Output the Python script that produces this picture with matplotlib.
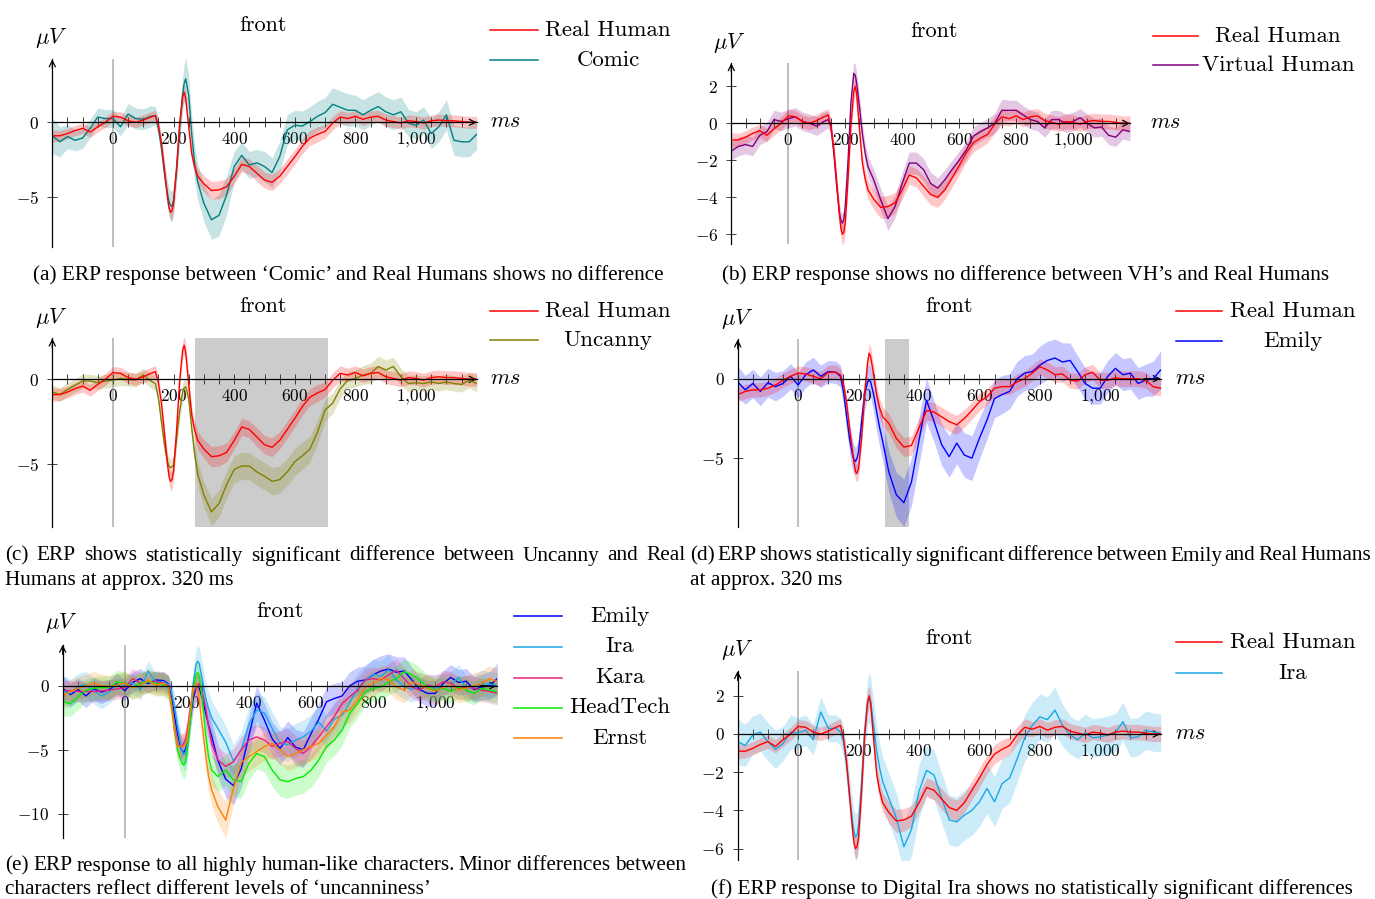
import matplotlib
matplotlib.use('Agg')
import matplotlib.pyplot as plt
from matplotlib.lines import Line2D

plt.rcParams['mathtext.fontset'] = 'cm'
plt.rcParams['font.family'] = ['cmr10', 'DejaVu Serif']
plt.rcParams['axes.formatter.use_mathtext'] = True

W, H = 1375, 899

# time grid (ms): coarse baseline, finer around the N170/P200 peaks
t = list(range(-200, 126, 25)) + [140, 150, 160, 170, 180, 185, 190, 195, 200, 210,
                                  220, 230, 235, 240, 250, 260, 270, 280] + list(range(300, 1201, 25))

# --- series (uV) ---
real_human = [-0.9, -0.9, -0.75, -0.55, -0.4, -0.65, -0.3, 0.0, 0.4, 0.35, 0.1, 0.0, 0.15, 0.35,
              0.45, -0.2, -1.4, -3.2, -5.0, -5.7, -6.0, -5.9, -5.4, -3.0, -0.1, 1.7, 2.0, 1.6, -0.3, -2.1, -3.0, -3.6,
              -4.1, -4.55, -4.5, -4.3, -3.6, -2.8, -2.95, -3.4, -3.85, -4.0, -3.6, -2.95, -2.3, -1.6, -1.05, -0.8, -0.6, -0.05, 0.35,
              0.25, 0.4, 0.2, 0.35, 0.4, 0.15, 0.05, -0.05, 0.1, 0.05, -0.05, 0.1, 0.15, 0.1, 0.1, 0.05, 0.0, 0.0]
real_human_sd = [0.4, 0.35, 0.35, 0.35, 0.35, 0.35, 0.35, 0.35, 0.35, 0.35, 0.35, 0.35, 0.35, 0.35,
                 0.35, 0.4, 0.45, 0.5, 0.5, 0.5, 0.55, 0.55, 0.55, 0.5, 0.5, 0.55, 0.55, 0.55, 0.5, 0.5, 0.5, 0.5,
                 0.55, 0.6, 0.6, 0.55, 0.5, 0.5, 0.5, 0.55, 0.55, 0.55, 0.5, 0.5, 0.5, 0.5, 0.5, 0.5, 0.45, 0.45, 0.45,
                 0.4, 0.4, 0.4, 0.4, 0.4, 0.4, 0.4, 0.4, 0.4, 0.4, 0.4, 0.4, 0.4, 0.4, 0.4, 0.4, 0.4, 0.4]

comic = [-0.9, -1.3, -0.95, -1.2, -1.05, -0.4, 0.35, 0.25, 0.25, -0.3, 0.55, 0.25, 0.2, 0.4,
         0.45, -0.4, -1.7, -3.4, -4.8, -5.3, -5.55, -5.6, -5.2, -3.2, -0.4, 1.9, 2.6, 2.9, 1.8, -0.8, -2.8, -4.0,
         -5.4, -6.5, -6.2, -4.85, -2.95, -2.2, -2.85, -2.7, -2.95, -3.35, -2.3, -0.5, -0.2, -0.25, 0.05, 0.4, 0.65, 1.2, 1.0,
         0.8, 0.8, 0.5, 0.8, 1.05, 0.7, 0.5, 0.7, -0.05, -0.2, 0.15, -0.75, -0.3, 0.5, -1.2, -1.3, -1.3, -0.8]
comic_sd = [1.2, 1.0, 0.8, 0.7, 0.7, 0.6, 0.6, 0.6, 0.6, 0.6, 0.7, 0.7, 0.7, 0.7,
            0.6, 0.6, 0.7, 0.8, 0.9, 0.9, 1.0, 1.0, 1.0, 1.0, 1.0, 1.1, 1.3, 1.4, 1.3, 1.2, 1.2, 1.2,
            1.2, 1.3, 1.4, 1.3, 1.0, 0.9, 0.9, 0.9, 1.0, 1.0, 1.0, 1.0, 1.0, 1.0, 1.0, 1.0, 1.0, 1.1, 1.1,
            1.1, 1.0, 1.0, 1.0, 1.0, 1.0, 1.0, 1.0, 0.9, 0.9, 0.9, 1.0, 1.0, 1.0, 1.0, 1.0, 1.0, 1.0]

virtual_human = [-1.5, -1.25, -1.15, -1.25, -0.65, -0.45, 0.2, 0.1, 0.25, 0.35, 0.1, 0.0, -0.15, 0.1,
                 0.2, -0.2, -1.6, -3.4, -4.9, -5.25, -5.4, -5.2, -4.5, -2.0, 1.1, 2.7, 2.6, 2.2, 0.9, -0.55, -1.6, -2.35,
                 -3.05, -4.15, -5.15, -4.5, -3.25, -2.15, -2.15, -2.5, -3.25, -3.5, -3.05, -2.5, -2.0, -1.45, -0.7, -0.45, -0.25, 0.0, 0.7,
                 0.7, 0.7, 0.45, 0.2, 0.1, -0.25, 0.2, 0.2, 0.0, 0.1, 0.3, 0.0, -0.25, -0.2, -0.65, -0.75, -0.35, -0.45]
virtual_human_sd = [0.5, 0.5, 0.5, 0.5, 0.5, 0.5, 0.5, 0.5, 0.5, 0.5, 0.5, 0.5, 0.5, 0.5,
                    0.45, 0.45, 0.5, 0.5, 0.5, 0.5, 0.5, 0.5, 0.5, 0.5, 0.55, 0.6, 0.6, 0.6, 0.6, 0.55, 0.55, 0.55,
                    0.55, 0.6, 0.65, 0.6, 0.6, 0.6, 0.6, 0.6, 0.6, 0.55, 0.55, 0.5, 0.5, 0.5, 0.5, 0.5, 0.5, 0.55, 0.6,
                    0.55, 0.55, 0.5, 0.5, 0.5, 0.5, 0.5, 0.5, 0.5, 0.5, 0.5, 0.5, 0.5, 0.5, 0.5, 0.5, 0.5, 0.5]

uncanny = [-0.75, -0.9, -0.6, -0.35, -0.1, -0.1, -0.2, -0.1, -0.05, 0.05, 0.0, -0.05, 0.25, -0.1,
           -0.25, -1.1, -2.5, -3.85, -4.85, -5.1, -5.2, -5.15, -5.05, -3.5, -1.9, -0.75, -0.5, -0.45, -1.1, -2.9, -4.45, -5.6,
           -6.8, -7.8, -7.3, -6.2, -5.3, -5.1, -5.1, -5.45, -5.7, -6.0, -5.9, -5.45, -4.85, -4.5, -4.1, -3.1, -1.8, -1.4, -0.55,
           -0.05, 0.05, 0.25, 0.35, 0.75, 0.55, 0.75, 0.15, -0.25, -0.2, -0.25, -0.15, -0.25, -0.15, -0.25, -0.3, -0.05, -0.25]
uncanny_sd = [0.4, 0.4, 0.4, 0.4, 0.4, 0.4, 0.4, 0.4, 0.4, 0.4, 0.4, 0.4, 0.4, 0.4,
              0.4, 0.4, 0.45, 0.5, 0.5, 0.5, 0.5, 0.5, 0.5, 0.5, 0.5, 0.5, 0.5, 0.5, 0.55, 0.6, 0.65, 0.7,
              0.75, 0.8, 0.8, 0.8, 0.8, 0.8, 0.8, 0.8, 0.8, 0.8, 0.8, 0.8, 0.8, 0.8, 0.75, 0.7, 0.65, 0.6, 0.55,
              0.5, 0.5, 0.55, 0.6, 0.6, 0.6, 0.55, 0.5, 0.5, 0.45, 0.45, 0.45, 0.45, 0.45, 0.45, 0.45, 0.45, 0.5]

real_human_d = [-1.0, -0.8, -0.7, -0.7, -0.6, -0.4, -0.1, 0.15, 0.35, 0.3, 0.15, 0.0, 0.4, 0.4,
                0.25, -0.4, -1.45, -3.1, -4.6, -5.3, -5.85, -5.95, -5.65, -3.75, -1.0, 1.05, 1.6, 1.4, 0.25, -1.0, -1.85, -2.4,
                -2.8, -3.75, -4.3, -4.2, -3.1, -2.0, -2.1, -2.4, -2.7, -2.9, -2.5, -2.0, -1.45, -1.15, -0.6, -0.5, -0.5, -0.2, 0.0,
                0.35, 0.75, 0.55, 0.25, 0.3, -0.1, -0.15, 0.25, 0.4, -0.1, -0.1, 0.05, 0.0, 0.0, 0.0, -0.1, -0.5, -0.6]
real_human_d_sd = [0.45, 0.45, 0.45, 0.45, 0.45, 0.45, 0.45, 0.45, 0.45, 0.45, 0.45, 0.45, 0.45, 0.45,
                   0.4, 0.4, 0.45, 0.5, 0.5, 0.5, 0.55, 0.55, 0.55, 0.55, 0.55, 0.55, 0.6, 0.6, 0.6, 0.6, 0.6, 0.6,
                   0.6, 0.6, 0.6, 0.6, 0.6, 0.6, 0.6, 0.6, 0.6, 0.6, 0.55, 0.55, 0.55, 0.5, 0.5, 0.5, 0.5, 0.5, 0.5,
                   0.5, 0.5, 0.5, 0.5, 0.5, 0.5, 0.5, 0.5, 0.5, 0.5, 0.5, 0.5, 0.5, 0.5, 0.5, 0.5, 0.5, 0.5]

emily = [-0.2, -0.7, -0.3, -0.8, -0.25, -0.5, -0.3, 0.15, -0.4, 0.25, 0.55, 0.15, 0.45, 0.4,
         0.15, -0.8, -2.3, -3.75, -4.8, -5.1, -5.2, -5.0, -4.6, -2.7, -1.0, -0.2, -0.1, -0.2, -1.0, -2.1, -3.1, -3.95,
         -5.85, -7.3, -7.8, -6.5, -3.9, -1.35, -2.7, -4.15, -4.9, -4.05, -4.8, -5.0, -3.75, -2.6, -1.25, -1.0, -0.8, 0.0, 0.35,
         0.45, 0.85, 1.15, 1.3, 1.05, 1.15, 0.45, -0.3, -0.6, -0.6, 0.15, 0.65, 0.25, 0.35, -0.3, -0.1, 0.0, 0.55]
emily_sd = [1.0, 0.9, 0.9, 0.9, 0.9, 0.9, 0.8, 0.8, 0.8, 0.8, 0.8, 0.7, 0.7, 0.7,
            0.7, 0.8, 0.9, 0.9, 0.9, 0.9, 0.9, 0.9, 0.9, 1.0, 1.0, 1.0, 1.0, 1.0, 1.1, 1.2, 1.2, 1.2,
            1.3, 1.4, 1.5, 1.5, 1.5, 1.4, 1.3, 1.3, 1.3, 1.3, 1.4, 1.4, 1.3, 1.2, 1.2, 1.2, 1.1, 1.1, 1.1,
            1.1, 1.2, 1.2, 1.2, 1.2, 1.1, 1.0, 1.0, 1.0, 1.0, 1.0, 1.0, 1.0, 1.0, 1.0, 1.0, 1.1, 1.2]

ira = [-0.4, -0.6, -0.05, 0.1, -0.4, -0.8, -0.5, 0.1, 0.05, 0.2, -0.3, 1.15, 0.3, 0.3,
       0.1, -0.4, -1.6, -3.2, -4.6, -5.1, -5.4, -5.3, -4.75, -2.5, 0.1, 1.7, 1.9, 1.7, 0.45, -0.9, -1.8, -2.5,
       -3.35, -4.4, -5.9, -5.0, -3.0, -1.9, -2.15, -3.35, -4.5, -4.6, -4.25, -4.0, -3.55, -2.85, -3.55, -2.6, -2.3, -1.3, -0.2,
       0.45, 0.9, 0.75, 1.25, 0.45, -0.05, -0.3, 0.05, -0.2, -0.15, -0.05, 0.05, 0.65, -0.2, -0.15, 0.2, 0.1, 0.05]
ira_sd = [1.2, 1.1, 1.0, 1.0, 1.0, 1.0, 0.9, 0.9, 0.8, 0.8, 0.8, 0.8, 0.7, 0.7,
          0.7, 0.8, 0.9, 1.0, 1.1, 1.1, 1.2, 1.2, 1.2, 1.2, 1.2, 1.2, 1.3, 1.3, 1.3, 1.3, 1.3, 1.3,
          1.3, 1.3, 1.3, 1.4, 1.4, 1.3, 1.3, 1.3, 1.3, 1.3, 1.3, 1.3, 1.3, 1.3, 1.3, 1.3, 1.3, 1.2, 1.2,
          1.2, 1.2, 1.2, 1.2, 1.1, 1.0, 1.0, 1.0, 1.0, 1.0, 1.0, 1.0, 1.0, 1.0, 1.0, 1.0, 1.0, 1.0]

kara = [-0.35, -0.4, -0.45, -0.45, -0.45, -0.4, -0.35, -0.25, -0.15, 0.55, 0.2, 0.3, 0.3, 0.2,
        0.0, -1.1, -3.2, -4.5, -4.75, -4.7, -4.5, -4.2, -3.7, -1.9, -0.6, -0.2, 0.0, 0.2, -0.6, -1.65, -3.2, -4.5,
        -5.8, -6.3, -5.95, -5.0, -4.25, -4.0, -4.25, -4.75, -4.5, -4.35, -4.9, -5.3, -4.75, -4.0, -3.2, -2.4, -1.4, -0.85, -0.35,
        0.45, 0.55, 0.45, 0.85, 1.2, 0.55, -0.1, -0.35, 0.05, -0.1, 0.3, 0.2, -0.2, -0.1, -0.2, -0.35, -0.45, -0.6]
kara_sd = [0.8, 0.8, 0.8, 0.8, 0.8, 0.8, 0.8, 0.8, 0.8, 0.8, 0.8, 0.8, 0.8, 0.8,
           0.8, 0.8, 0.9, 0.9, 0.9, 0.9, 0.9, 0.9, 0.9, 1.0, 1.0, 1.0, 1.0, 1.0, 1.0, 1.0, 1.0, 1.0,
           1.0, 1.0, 1.0, 1.0, 1.0, 1.0, 1.0, 1.0, 1.0, 1.0, 1.0, 1.0, 1.0, 1.0, 1.0, 1.0, 1.0, 1.0, 1.0,
           0.9, 0.9, 0.9, 0.9, 0.9, 0.9, 0.9, 0.9, 0.9, 0.9, 0.9, 0.9, 0.9, 0.9, 0.9, 0.9, 0.9, 0.9]

headtech = [-1.25, -1.4, -0.85, -0.35, -0.2, -0.15, -0.15, 0.3, 0.2, -0.15, 0.2, 0.3, 0.2, 0.05,
            -0.15, -1.4, -3.45, -5.0, -5.8, -6.1, -6.2, -6.0, -5.3, -2.95, -0.35, 0.95, 1.0, 0.7, -1.1, -3.7, -5.55, -6.6,
            -7.1, -6.6, -7.35, -7.5, -6.05, -5.3, -5.55, -6.6, -7.35, -7.5, -7.25, -7.1, -6.6, -5.8, -4.75, -4.25, -3.45, -2.15, -1.4,
            -0.45, -0.2, -0.1, 0.3, 0.55, 1.1, 0.85, 0.45, -0.1, -0.35, -0.2, -0.45, -0.1, -0.35, -0.6, -0.2, -0.35, -0.45]
headtech_sd = [1.1, 1.0, 1.0, 0.9, 0.9, 0.9, 0.9, 0.9, 0.9, 0.9, 0.9, 0.9, 0.9, 0.9,
               0.9, 0.9, 1.0, 1.0, 1.0, 1.0, 1.1, 1.1, 1.1, 1.1, 1.1, 1.1, 1.1, 1.1, 1.1, 1.2, 1.2, 1.2,
               1.2, 1.2, 1.3, 1.3, 1.3, 1.2, 1.2, 1.3, 1.3, 1.3, 1.3, 1.3, 1.3, 1.3, 1.2, 1.2, 1.2, 1.1, 1.1,
               1.0, 1.0, 1.0, 1.0, 1.0, 1.0, 1.0, 1.0, 0.9, 0.9, 0.9, 0.9, 0.9, 0.9, 0.9, 0.9, 0.9, 0.9]

ernst = [-0.85, -0.45, -0.2, 0.0, 0.2, 0.0, -0.1, 0.05, 0.2, -0.15, 0.0, 0.45, 0.05, 0.2,
         -0.15, -1.65, -3.45, -4.75, -4.75, -4.75, -4.75, -4.6, -4.25, -2.15, -0.2, 0.2, -0.3, -1.1, -3.2, -5.3, -7.1, -8.15,
         -9.45, -10.5, -8.0, -6.0, -5.55, -5.15, -4.75, -4.5, -5.0, -5.55, -5.3, -5.0, -4.75, -4.5, -3.85, -3.2, -2.05, -1.9, -1.1,
         -0.1, 0.2, 0.55, 0.45, -0.1, -0.35, 0.3, 0.05, -0.2, -0.45, -0.1, 0.05, -0.35, -0.2, 0.0, 0.2, 0.55, 0.3]
ernst_sd = [0.9, 0.9, 0.9, 0.9, 0.9, 0.9, 0.9, 0.9, 0.9, 0.9, 0.9, 0.9, 0.9, 0.9,
            0.9, 0.9, 1.0, 1.0, 1.0, 1.0, 1.0, 1.0, 1.0, 1.0, 1.0, 1.0, 1.0, 1.0, 1.1, 1.1, 1.2, 1.2,
            1.3, 1.4, 1.3, 1.1, 1.1, 1.1, 1.1, 1.1, 1.1, 1.1, 1.1, 1.1, 1.1, 1.1, 1.1, 1.1, 1.0, 1.0, 1.0,
            1.0, 1.0, 1.0, 1.0, 1.0, 1.0, 1.0, 1.0, 1.0, 1.0, 1.0, 1.0, 1.0, 1.0, 1.0, 1.0, 1.0, 1.0]

# colours
RED = '#ff0000'
TEAL = '#008080'
PURPLE = '#800080'
OLIVE = '#808000'
BLUE = '#0000ff'
IRA = '#1aa7e6'
KARA = '#e8207f'
HEAD = '#00ee00'
ERNST = '#ff8000'

captions = {
    'a': '(a) ERP response between \u2018Comic\u2019 and Real Humans shows no difference',
    'b': '(b) ERP response shows no difference between VH\u2019s and Real Humans',
    'c1': '(c) ERP shows statistically significant difference between Uncanny and Real',
    'c2': 'Humans at approx. 320 ms',
    'd1': '(d) ERP shows statistically significant difference between Emily and Real Humans',
    'd2': 'at approx. 320 ms',
    'e1': '(e) ERP response to all highly human-like characters. Minor differences between',
    'e2': 'characters reflect different levels of \u2018uncanniness\u2019',
    'f': '(f) ERP response to Digital Ira shows no statistically significant differences',
}

CAP_SIZE = 15.3

fig = plt.figure(figsize=(W / 100, H / 100), dpi=100)
fig.patch.set_facecolor('white')


def fx(x):
    return x / W


def fy(y):
    return 1 - y / H


def tick_label(v):
    if v == 1000:
        return r'$1{,}000$'
    return r'$%d$' % v


def panel(left, right, y0, ppu, ylim, yticks, title_xy, mu_xy, ms_xy=None):
    top = y0 - ylim[1] * ppu
    bottom = y0 - ylim[0] * ppu
    ax = fig.add_axes([fx(left), fy(bottom), (right - left) / W, (bottom - top) / H])
    ax.set_xlim(-200, 1200)
    ax.set_ylim(*ylim)
    ax.patch.set_visible(False)
    for s in ('top', 'right'):
        ax.spines[s].set_visible(False)
    ax.spines['bottom'].set_position(('data', 0))
    for s in ('left', 'bottom'):
        ax.spines[s].set_linewidth(0.9)
        ax.spines[s].set_zorder(6)
    xt = list(range(-150, 1151, 50))
    ax.set_xticks(xt)
    ax.set_xticklabels([tick_label(v) if v % 200 == 0 and 0 <= v <= 1000 else '' for v in xt])
    ax.set_yticks(yticks)
    ax.set_yticklabels([tick_label(v) for v in yticks])
    ax.tick_params(axis='both', direction='inout', length=7, width=0.6, labelsize=12.5,
                   color='#222222')
    ax.tick_params(axis='x', pad=3)
    ax.tick_params(axis='y', pad=6)
    ax.axvline(0, color='#b3b3b3', lw=1.2, zorder=0.5)
    arrow = dict(arrowstyle='->', lw=0.9, color='black', mutation_scale=11, shrinkA=0, shrinkB=0)
    ax.annotate('', xy=(1.0, 0), xytext=(0.96, 0), xycoords=('axes fraction', 'data'),
                textcoords=('axes fraction', 'data'), arrowprops=arrow, annotation_clip=False)
    ax.annotate('', xy=(0, 1.0), xytext=(0, 0.95), xycoords='axes fraction',
                arrowprops=arrow, annotation_clip=False)
    fig.text(fx(title_xy[0]), fy(title_xy[1]), 'front', ha='center', va='center', fontsize=16)
    fig.text(fx(mu_xy[0]), fy(mu_xy[1]), r'$\mu V$', ha='center', va='center', fontsize=16)
    if ms_xy:
        fig.text(fx(ms_xy[0]), fy(ms_xy[1]), r'$ms$', ha='center', va='center', fontsize=16)
    return ax


def series(ax, y, sd, color, alpha=0.22):
    n = min(len(t), len(y), len(sd))
    lo = [y[i] - sd[i] for i in range(n)]
    hi = [y[i] + sd[i] for i in range(n)]
    ax.fill_between(t[:n], lo, hi, color=color, alpha=alpha, lw=0, zorder=2)
    ax.plot(t[:n], y[:n], color=color, lw=1.0, zorder=3)


def legend(x0, x1, xt, ys, items):
    for y, (label, color) in zip(ys, items):
        fig.add_artist(Line2D([fx(x0), fx(x1)], [fy(y), fy(y)], color=color, lw=1.1,
                              transform=fig.transFigure))
        fig.text(fx(xt), fy(y), label, ha='center', va='center', fontsize=16.5)


def caption(x, y, text):
    fig.text(fx(x), fy(y), text, ha='left', va='center', fontsize=CAP_SIZE, family='Liberation Serif')


def justified(x0, x1, y, text):
    words = text.split(' ')
    r = fig.canvas.get_renderer()
    arts = [fig.text(0, fy(y), w, ha='left', va='center', fontsize=CAP_SIZE,
                     family='Liberation Serif') for w in words]
    widths = [a.get_window_extent(r).width for a in arts]
    gap = (x1 - x0 - sum(widths)) / (len(words) - 1)
    x = x0
    for a, w in zip(arts, widths):
        a.set_x(fx(x))
        x += w + gap


# (a) Comic
ax = panel(52.3, 476.7, 122.3, 15.0, (-8.3, 4.2), [-5, 0], (263, 25), (51, 38), (505, 121))
series(ax, comic, comic_sd, TEAL)
series(ax, real_human, real_human_sd, RED)
legend(490, 538, 608, [30, 60], [('Real Human', RED), ('Comic', TEAL)])
caption(33, 275, captions['a'])

# (b) Virtual Human
ax = panel(731.3, 1130, 123.3, 18.5, (-6.5, 3.25), [-6, -4, -2, 0, 2], (934, 31), (729, 43), (1165, 122))
series(ax, virtual_human, virtual_human_sd, PURPLE)
series(ax, real_human, real_human_sd, RED)
legend(1153, 1198, 1278, [36, 65], [('Real Human', RED), ('Virtual Human', PURPLE)])
caption(722, 275, captions['b'])

# (c) Uncanny
ax = panel(52.3, 476.7, 379.3, 17.0, (-8.7, 2.4), [-5, 0], (263, 306), (51, 318), (505, 378))
ax.axvspan(271, 711, color='#cccccc', lw=0, zorder=0.3)
series(ax, uncanny, uncanny_sd, OLIVE)
series(ax, real_human, real_human_sd, RED)
legend(490, 538, 608, [311, 340], [('Real Human', RED), ('Uncanny', OLIVE)])
justified(5, 686, 556, captions['c1'])
caption(5, 580, captions['c2'])

# (d) Emily
ax = panel(737.7, 1160.7, 378.7, 15.9, (-9.35, 2.47), [-5, 0], (949, 306), (737, 319), (1190, 378))
ax.axvspan(288, 366, color='#cccccc', lw=0, zorder=0.3)
series(ax, emily, emily_sd, BLUE)
series(ax, real_human_d, real_human_d_sd, RED)
legend(1176, 1222, 1293, [311, 341], [('Real Human', RED), ('Emily', BLUE)])
justified(690, 1371, 556, captions['d1'])
caption(690, 580, captions['d2'])

# (e) all human-like characters
ax = panel(62.7, 497.3, 685.7, 12.8, (-11.9, 3.2), [-10, -5, 0], (280, 611), (61, 623))
for y, sd, c in [(emily, emily_sd, BLUE), (ira, ira_sd, IRA), (kara, kara_sd, KARA),
                 (headtech, headtech_sd, HEAD), (ernst, ernst_sd, ERNST)]:
    series(ax, y, sd, c, alpha=0.2)
legend(514, 562, 620, [616, 646.5, 677.5, 707.5, 738],
       [('Emily', BLUE), ('Ira', IRA), ('Kara', KARA), ('HeadTech', HEAD), ('Ernst', ERNST)])
justified(5, 686, 866, captions['e1'])
caption(5, 889, captions['e2'])

# (f) Digital Ira
ax = panel(737.7, 1160.7, 734.0, 19.1, (-6.6, 3.3), [-6, -4, -2, 0, 2], (949, 638), (737, 650), (1190, 733))
series(ax, ira, ira_sd, IRA)
series(ax, real_human, real_human_sd, RED)
legend(1176, 1222, 1293, [642, 673], [('Real Human', RED), ('Ira', IRA)])
caption(711, 889, captions['f'])

fig.savefig('out.png', dpi=100, facecolor='white')
